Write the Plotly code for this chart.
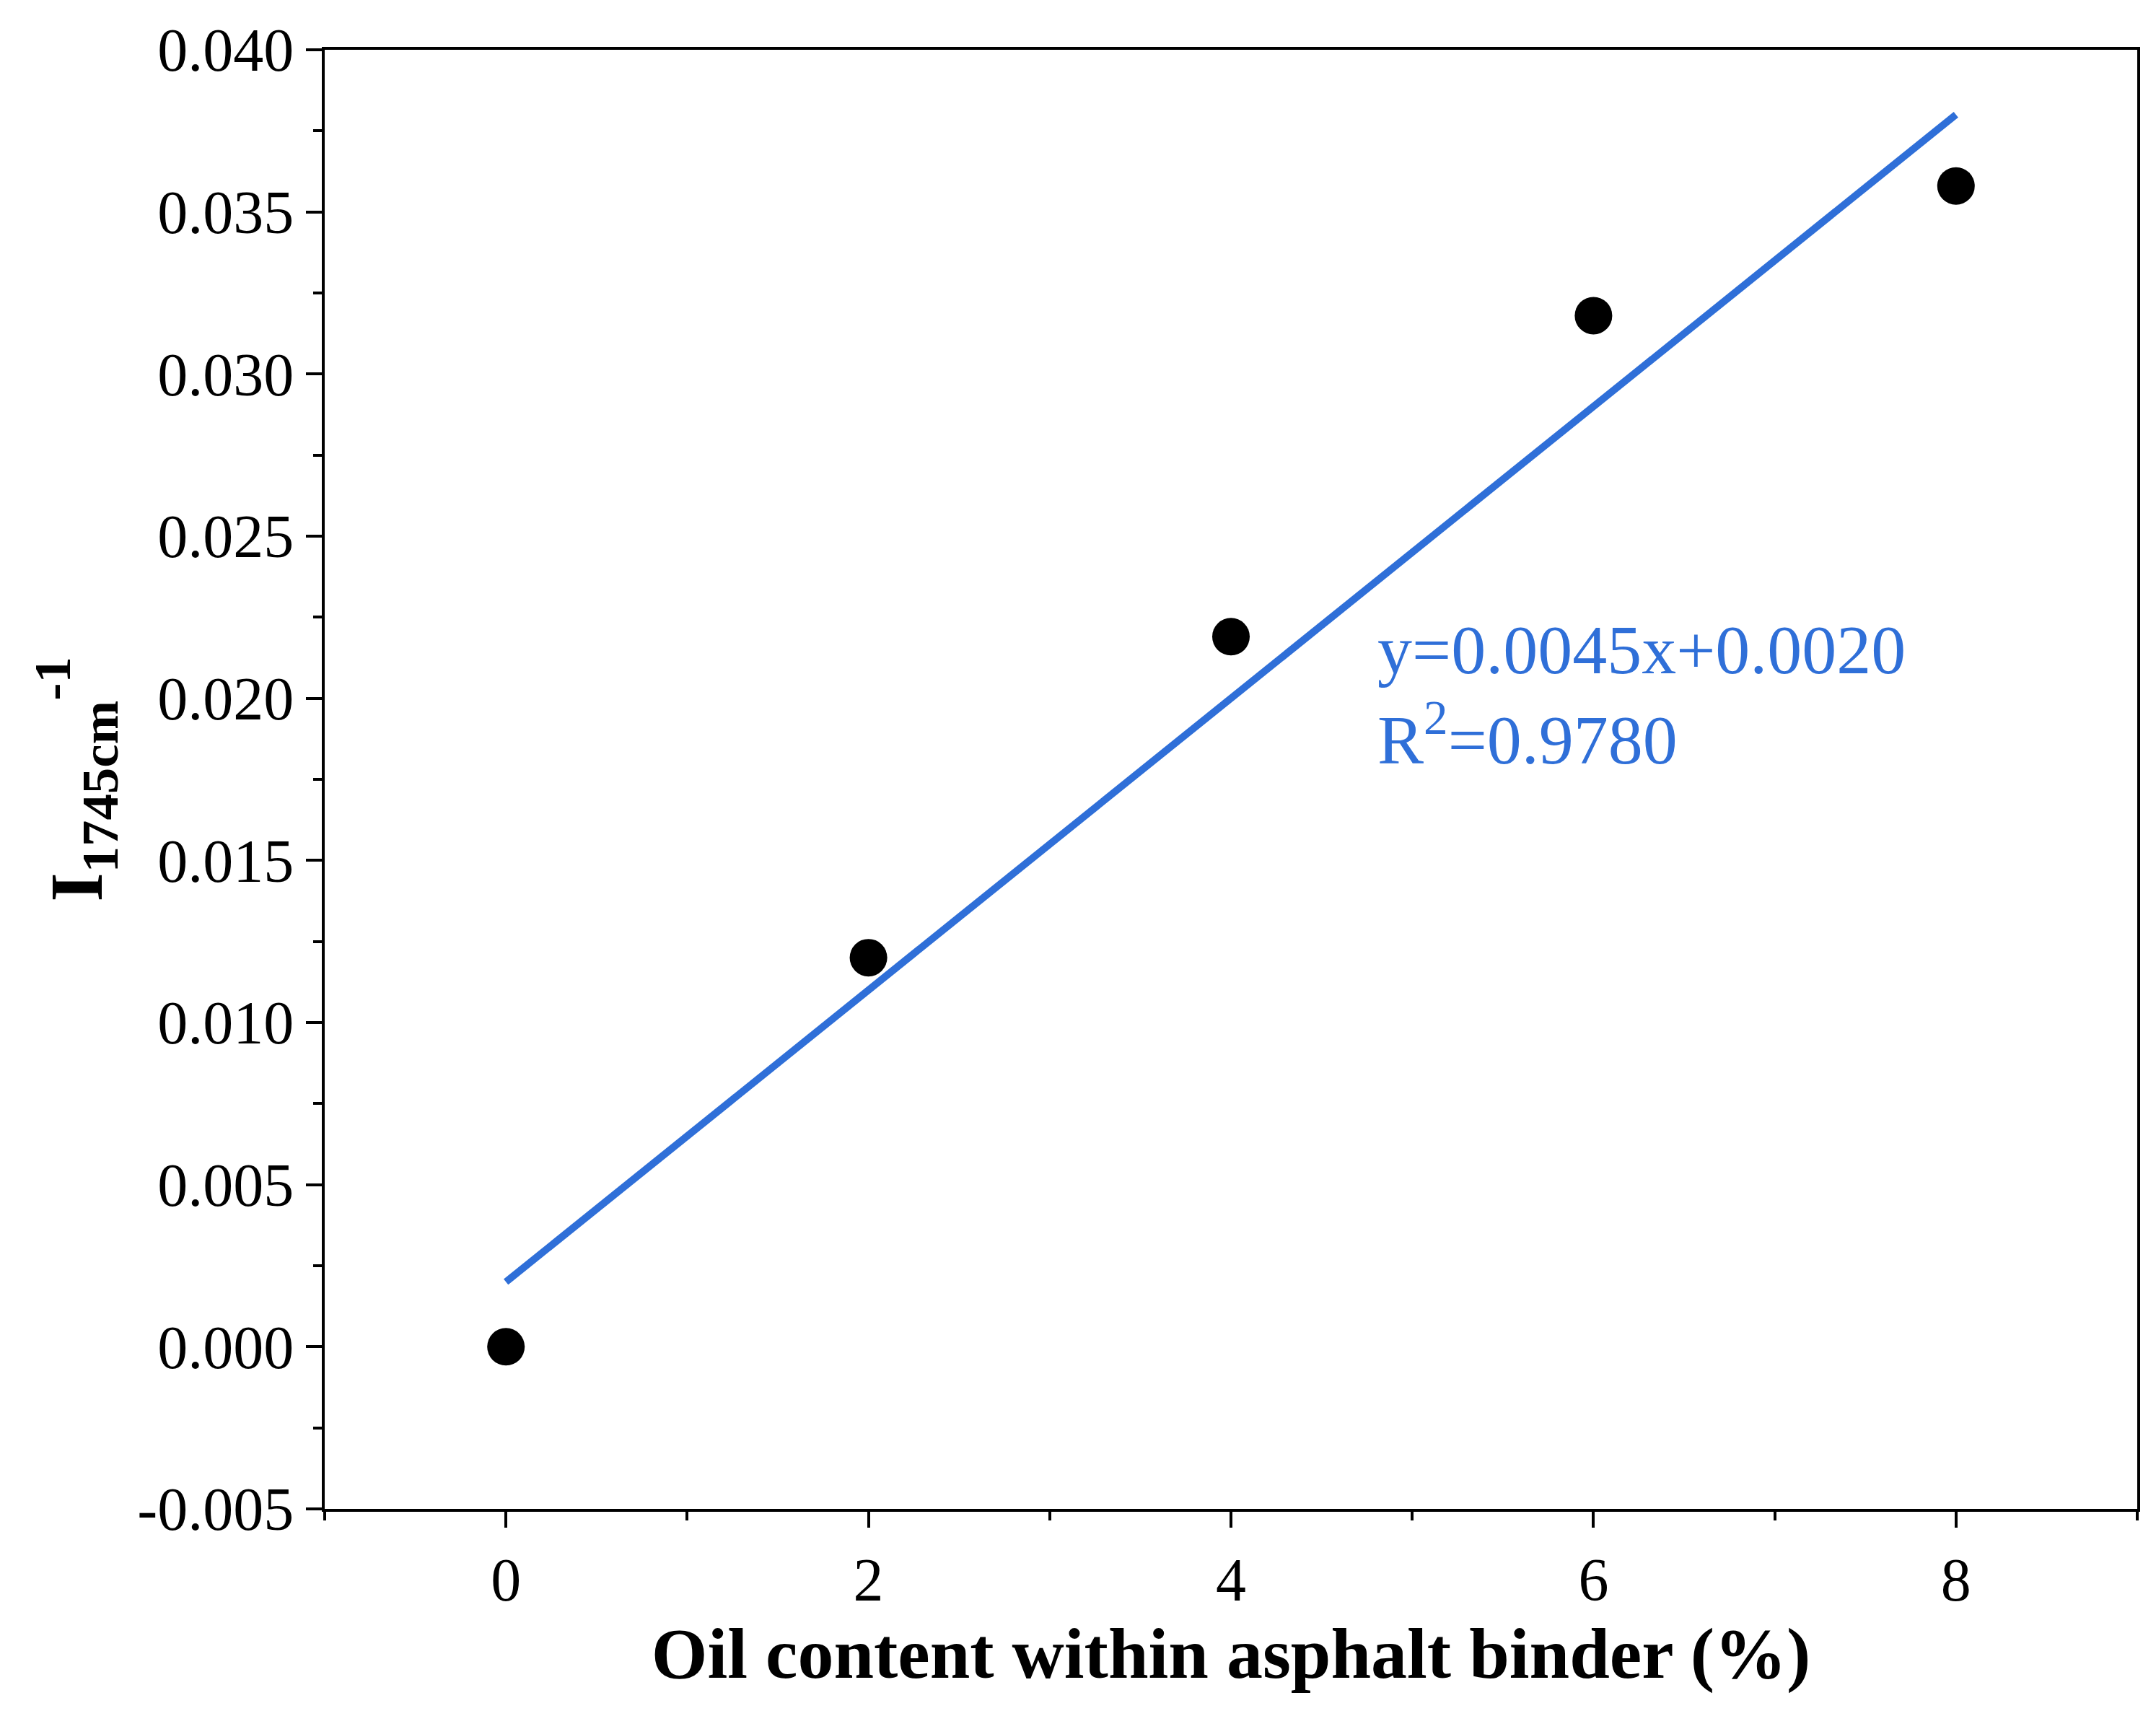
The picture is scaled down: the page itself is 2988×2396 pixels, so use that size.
import plotly.graph_objects as go

oil = [0, 2, 4, 6, 8]
index_1745 = [0.0, 0.0120, 0.0219, 0.0318, 0.0358]
fit_x = [0, 8]
slope, intercept = 0.0045, 0.0020
fit_y = [slope * v + intercept for v in fit_x]
y_ticks = [-0.005, 0.0, 0.005, 0.010, 0.015, 0.020, 0.025, 0.030, 0.035, 0.040]
y_labels = ["-0.005", "0.000", "0.005", "0.010", "0.015", "0.020",
            "0.025", "0.030", "0.035", "0.040"]

font = "Liberation Serif"

fig = go.Figure()
fig.add_trace(go.Scatter(x=fit_x, y=fit_y, mode="lines",
                         line=dict(color="#2f6fd8", width=10), showlegend=False))
fig.add_trace(go.Scatter(x=oil, y=index_1745, mode="markers",
                         marker=dict(color="black", size=52), showlegend=False))

fig.add_annotation(x=4.8, y=0.0201, xref="x", yref="y", xanchor="left", yanchor="middle",
                   text="y=0.0045x+0.0020<br>R<sup>2</sup>=0.9780", align="left",
                   showarrow=False, font=dict(family=font, size=96, color="#2f6fd8"))

axis_common = dict(showline=True, linecolor="black", linewidth=4, mirror=True,
                   ticks="outside", ticklen=22, tickwidth=4, tickcolor="black",
                   showgrid=False, zeroline=False,
                   tickfont=dict(family=font, size=84, color="black"))

fig.update_xaxes(range=[-1, 9], tickvals=[0, 2, 4, 6, 8],
                 minor=dict(tickvals=[-1, 1, 3, 5, 7, 9], ticks="outside", ticklen=12,
                            tickwidth=4, tickcolor="black"),
                 title=dict(text="<b>Oil content within asphalt binder (%)</b>",
                            font=dict(family=font, size=100, color="black"), standoff=20),
                 **axis_common)
fig.update_yaxes(range=[-0.005, 0.04], tickvals=y_ticks, ticktext=y_labels,
                 minor=dict(dtick=0.0025, ticks="outside", ticklen=12,
                            tickwidth=4, tickcolor="black"),
                 title=dict(text="<b>I<sub>1745cm</sub><sup>-1</sup></b>",
                            font=dict(family=font, size=104, color="black"), standoff=15),
                 **axis_common)

fig.update_layout(width=2988, height=2396, plot_bgcolor="white", paper_bgcolor="white",
                  margin=dict(l=442, r=34, t=61, b=313))
fig.write_html("out.html")
